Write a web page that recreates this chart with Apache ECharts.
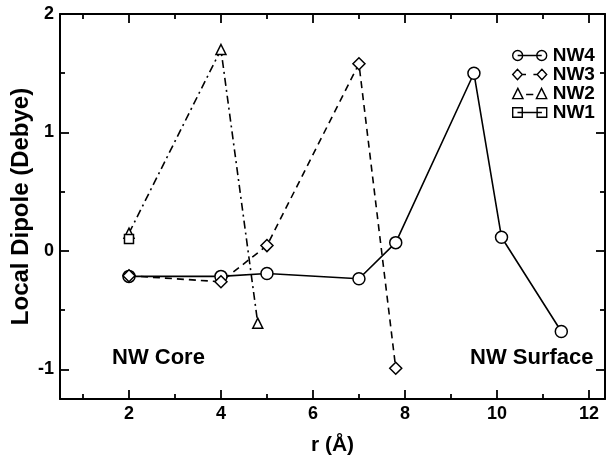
<!DOCTYPE html>
<html><head><meta charset="utf-8">
<script src="https://cdn.jsdelivr.net/npm/echarts@6/dist/echarts.min.js"></script>
<style>html,body{margin:0;padding:0;background:#fff}#c{width:610px;height:459px}</style>
</head><body><div id="c"></div>
<script>
const nw4 = [[2,-0.215],[4,-0.215],[5,-0.19],[7,-0.235],[7.8,0.07],[9.5,1.5],[10.1,0.115],[11.4,-0.68]];
const nw3 = [[2,-0.21],[4,-0.26],[5,0.045],[7,1.58],[7.8,-0.99]];
const nw2 = [[2,0.15],[4,1.70],[4.8,-0.61]];
const nw1 = [[2,0.1]];
const xMajor = [2,4,6,8,10,12];
const xMinor = [1,3,5,7,9,11];
const yMajor = [-1,0,1,2];
const yMinor = [-0.5,0.5,1.5];

const F = 'Liberation Sans, Arial, sans-serif';
const chart = echarts.init(document.getElementById('c'));
function xa(pos, vals, len, labels, line, name){
  return {type:'value', position:pos, min:0.5, max:12.35,
    axisLine:{show:line, onZero:false, lineStyle:{color:'#000', width:2}},
    axisTick:{show:true, inside:true, length:len, customValues:vals, lineStyle:{color:'#000', width:1.8}},
    axisLabel:{show:labels, customValues:vals, color:'#000', fontFamily:F, fontWeight:'bold', fontSize:18, margin:6},
    splitLine:{show:false},
    name:name||'', nameLocation:'middle', nameGap:36, nameMoveOverlap:false,
    nameTextStyle:{color:'#000', fontFamily:F, fontWeight:'bold', fontSize:21}};
}
function ya(pos, vals, len, labels, line, name){
  return {type:'value', position:pos, min:-1.25, max:2,
    axisLine:{show:line, onZero:false, lineStyle:{color:'#000', width:2}},
    axisTick:{show:true, inside:true, length:len, customValues:vals, lineStyle:{color:'#000', width:1.8}},
    axisLabel:{show:labels, customValues:vals, color:'#000', fontFamily:F, fontWeight:'bold', fontSize:18, margin:6},
    splitLine:{show:false},
    name:name||'', nameLocation:'middle', nameGap:27, nameMoveOverlap:false,
    nameTextStyle:{color:'#000', fontFamily:F, fontWeight:'bold', fontSize:24}};
}
const sym = {color:'#fff', borderColor:'#000', borderWidth:1.5};
function ser(name, data, symbol, size, type){
  return {name, type:'line', data, symbol, symbolSize:size, showAllSymbol:true,
    xAxisIndex:0, yAxisIndex:0,
    lineStyle:{color:'#000', width:1.6, type},
    itemStyle:sym, z:3};
}
const icons = {
  NW4:'path://M0.75,5.5A4.75,4.75,0,1,1,10.25,5.5A4.75,4.75,0,1,1,0.75,5.5ZM23.75,5.5A4.75,4.75,0,1,1,33.25,5.5A4.75,4.75,0,1,1,23.75,5.5ZM5.5,5.5L28.5,5.5',
  NW3:'path://M1,5.5L5.5,0.5L10,5.5L5.5,10.5ZM24,5.5L28.5,0.5L33,5.5L28.5,10.5ZM10,5.5L13.5,5.5M20.5,5.5L24,5.5',
  NW2:'path://M0.5,10.5L5.5,0.5L10.5,10.5ZM23.5,10.5L28.5,0.5L33.5,10.5ZM13.5,6.5L20.5,6.5',
  NW1:'path://M1,1H10V10H1ZM24,1H33V10H24ZM5.5,5.5L28.5,5.5'
};
chart.setOption({
  animation:false,
  grid:{left:60, top:14, right:5, bottom:60, outerBoundsMode:'none', containLabel:false},
  xAxis:[
    xa('bottom', xMajor, 9, true, true, 'r (Å)'),
    xa('bottom', xMinor, 5, false, false),
    xa('top', xMajor, 9, false, true),
    xa('top', xMinor, 5, false, false)
  ],
  yAxis:[
    ya('left', yMajor, 9, true, true, 'Local Dipole (Debye)'),
    ya('left', yMinor, 5, false, false),
    ya('right', yMajor, 9, false, true),
    ya('right', yMinor, 5, false, false)
  ],
  legend:{orient:'vertical', left:507, top:41, itemWidth:34, itemHeight:11, itemGap:0,
    itemStyle:{color:'#fff', borderColor:'#000', borderWidth:1.4},
    textStyle:{color:'#000', fontFamily:F, fontWeight:'bold', fontSize:19, padding:[0,0,0,1]},
    data:['NW4','NW3','NW2','NW1'].map(n => ({name:n, icon:icons[n]}))},
  series:[
    ser('NW4', nw4, 'circle', 12, 'solid'),
    ser('NW3', nw3, 'diamond', 12, [7,5]),
    ser('NW2', nw2, 'triangle', 10, [8,4,2,4]),
    ser('NW1', nw1, 'rect', 9, 'solid')
  ],
  graphic:[
    {type:'text', left:112, top:347, style:{text:'NW Core', fill:'#000', font:'bold 22px '+F}},
    {type:'text', left:470, top:347, style:{text:'NW Surface', fill:'#000', font:'bold 22px '+F}}
  ]
});
</script></body></html>
